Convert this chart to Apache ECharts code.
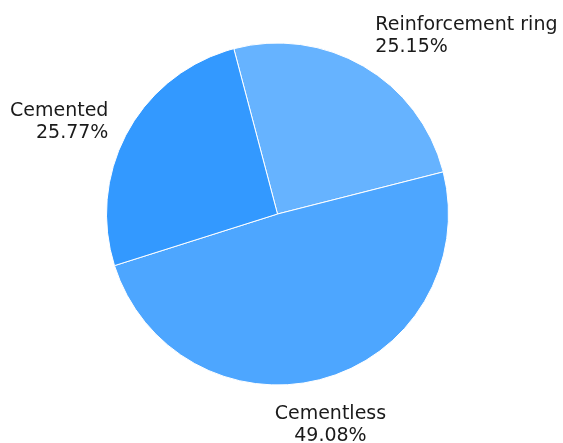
<!DOCTYPE html>
<html>
<head>
<meta charset="utf-8">
<script src="https://cdn.jsdelivr.net/npm/echarts@6/dist/echarts.min.js"></script>
<style>
  html, body { margin: 0; padding: 0; background: #fff; }
  #chart { width: 563px; height: 443px; }
</style>
</head>
<body>
<div id="chart"></div>
<script>
// Share of fixation types
const categories = ['Reinforcement ring', 'Cementless', 'Cemented'];
const shares = [25.15, 49.08, 25.77];
const colors = ['#66b3ff', '#4da6ff', '#3399ff'];

const CENTER = [277.5, 214];
const RADIUS = 171;
const START_ANGLE = 104.8;
const LABEL_DIST = 193;

const total = shares.reduce((a, b) => a + b, 0);

// Place each label just outside its slice, along the slice's middle direction
function placeLabel(params) {
  const i = params.dataIndex;
  let before = 0;
  for (let k = 0; k < i; k++) before += shares[k];
  const midDeg = START_ANGLE - (before + shares[i] / 2) / total * 360;
  const rad = midDeg * Math.PI / 180;
  const ux = Math.cos(rad);
  const uy = -Math.sin(rad);
  const h = params.labelRect.height;
  const x = CENTER[0] + LABEL_DIST * ux;
  // push the text block further out the more vertical the direction is
  const y = CENTER[1] + LABEL_DIST * uy + Math.sign(uy) * Math.pow(uy, 4) * h * 0.6 + 3;
  const align = ux > 0.3 ? 'left' : (ux < -0.3 ? 'right' : 'center');
  return { x: x, y: y, align: align, verticalAlign: 'middle' };
}

const chart = echarts.init(document.getElementById('chart'), null, { renderer: 'canvas' });
chart.setOption({
  animation: false,
  series: [{
    type: 'pie',
    center: CENTER,
    radius: RADIUS,
    startAngle: START_ANGLE,
    clockwise: true,
    avoidLabelOverlap: false,
    data: categories.map((name, i) => ({
      name: name,
      value: shares[i],
      itemStyle: { color: colors[i] }
    })),
    itemStyle: { borderColor: '#ffffff', borderWidth: 1 },
    label: {
      show: true,
      position: 'outside',
      formatter: (p) => p.name + '\n' + shares[p.dataIndex].toFixed(2) + '%',
      fontFamily: 'DejaVu Sans',
      fontSize: 19,
      lineHeight: 22,
      color: '#1a1a1a'
    },
    labelLine: { show: false },
    labelLayout: placeLabel,
    emphasis: { disabled: true }
  }]
});
</script>
</body>
</html>
